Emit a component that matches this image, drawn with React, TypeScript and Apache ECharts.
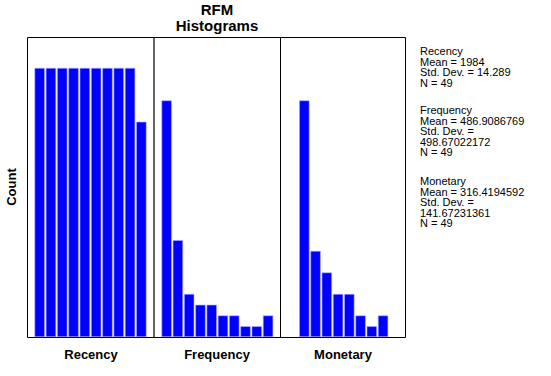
import React, { useEffect, useRef } from "react";
import * as echarts from "echarts";

const recencyCounts = [5, 5, 5, 5, 5, 5, 5, 5, 5, 4];
const frequencyCounts = [22, 9, 4, 3, 3, 2, 2, 1, 1, 2];
const monetaryCounts = [22, 8, 6, 4, 4, 2, 1, 2];
const panelNames = ["Recency", "Frequency", "Monetary"];
const statsTexts = [
  "Recency\nMean = 1984\nStd. Dev. = 14.289\nN = 49",
  "Frequency\nMean = 486.9086769\nStd. Dev. =\n498.67022172\nN = 49",
  "Monetary\nMean = 316.4194592\nStd. Dev. =\n141.67231361\nN = 49",
];

const FONT = "'Liberation Sans', Arial, sans-serif";

export default function App() {
  const ref = useRef<HTMLDivElement>(null);
  useEffect(() => {
    document.body.style.margin = "0";
    const chart = echarts.init(ref.current!, null, { renderer: "svg" });
    const panels = [recencyCounts, frequencyCounts, monetaryCounts];
    const grids = [
      { left: 34, top: 37, width: 113, height: 300 },
      { left: 161, top: 37, width: 112.7, height: 300 },
      { left: 298.7, top: 37, width: 90, height: 300 },
    ];
    const yMax = [5.576, 27.9, 27.9];
    const barStyle = { color: "#0000ff", borderColor: "#a8a8ff", borderWidth: 0.6 };
    chart.setOption({
      animation: false,
      backgroundColor: "#ffffff",
      grid: grids,
      xAxis: panels.map((p, i) => ({
        type: "category",
        gridIndex: i,
        data: p.map((_, j) => String(j + 1)),
        axisLine: { show: false },
        axisTick: { show: false },
        axisLabel: { show: false },
      })),
      yAxis: panels.map((_, i) => ({
        type: "value",
        gridIndex: i,
        min: 0,
        max: yMax[i],
        show: false,
        splitLine: { show: false },
      })),
      series: panels.map((p, i) => ({
        type: "bar",
        xAxisIndex: i,
        yAxisIndex: i,
        data: p,
        barCategoryGap: "9%",
        itemStyle: barStyle,
      })),
      graphic: [
        {
          type: "rect",
          shape: { x: 27.5, y: 37.5, width: 378, height: 300 },
          style: { fill: "none", stroke: "#000", lineWidth: 1 },
          z: 10,
        },
        {
          type: "line",
          shape: { x1: 154, y1: 37.5, x2: 154, y2: 337.5 },
          style: { stroke: "#333", lineWidth: 1.5 },
          z: 10,
        },
        {
          type: "line",
          shape: { x1: 280.5, y1: 37.5, x2: 280.5, y2: 337.5 },
          style: { stroke: "#000", lineWidth: 1 },
          z: 10,
        },
        {
          type: "text",
          x: 217,
          y: 2,
          style: {
            text: "RFM",
            font: `bold 15px ${FONT}`,
            fill: "#000",
            align: "center",
          },
        },
        {
          type: "text",
          x: 217,
          y: 18,
          style: {
            text: "Histograms",
            font: `bold 15px ${FONT}`,
            fill: "#000",
            align: "center",
          },
        },
        {
          type: "text",
          x: 11,
          y: 187,
          rotation: Math.PI / 2,
          style: {
            text: "Count",
            font: `bold 13px ${FONT}`,
            fill: "#000",
            align: "center",
            verticalAlign: "middle",
          },
        },
        ...panelNames.map((n, i) => ({
          type: "text",
          x: [91, 217, 343][i],
          y: 354,
          style: {
            text: n,
            font: `bold 13px ${FONT}`,
            fill: "#000",
            align: "center",
            verticalAlign: "middle",
          },
        })),
        ...statsTexts.map((t, i) => ({
          type: "text",
          x: 420,
          y: [46, 105, 176][i],
          style: {
            text: t,
            font: `11px ${FONT}`,
            fill: "#000",
            lineHeight: 10.5,
          },
        })),
      ],
    });
    return () => chart.dispose();
  }, []);
  return <div ref={ref} style={{ width: 551, height: 376 }} />;
}
